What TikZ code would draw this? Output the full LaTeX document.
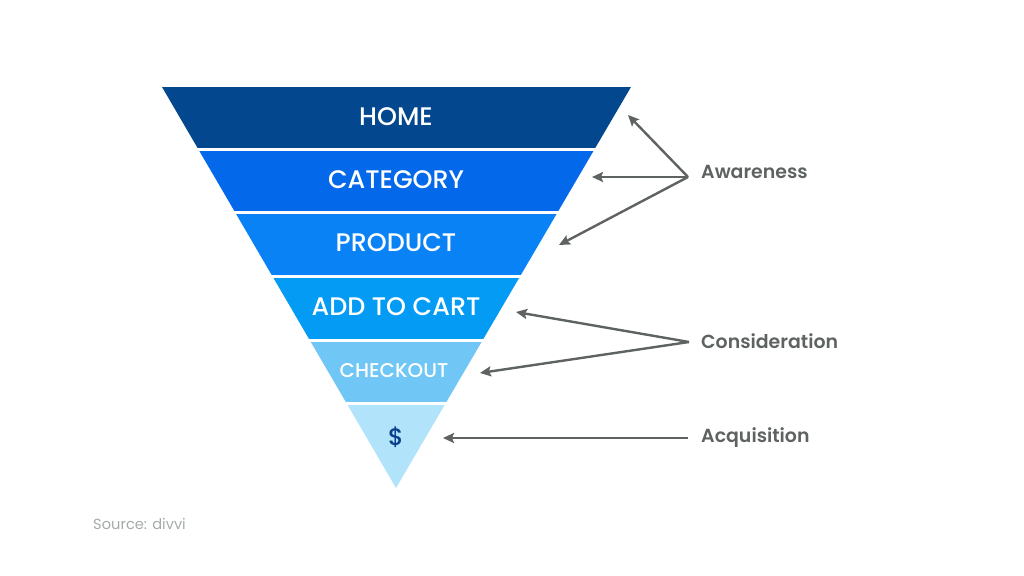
\documentclass[tikz,border=0pt]{standalone}
\usepackage{fontspec}
\setmainfont{Poppins}
\newfontfamily\popmed{Poppins Medium}
\newfontfamily\popsemi{Poppins SemiBold}
\usetikzlibrary{arrows.meta}
\definecolor{cHome}{HTML}{03488F}
\definecolor{cCat}{HTML}{0369EA}
\definecolor{cProd}{HTML}{0982F6}
\definecolor{cCart}{HTML}{049BF4}
\definecolor{cChk}{HTML}{70C7F5}
\definecolor{cBuy}{HTML}{B1E3FB}
\definecolor{cDollar}{HTML}{0B3F8C}
\definecolor{cArrow}{HTML}{5E6362}
\definecolor{cSrc}{HTML}{A3ABAA}
\tikzset{
  bandtext/.style={text=white, font=\popmed\fontsize{25.5}{28}\selectfont, inner sep=0pt},
  smalltext/.style={text=white, font=\popmed\fontsize{20}{24}\selectfont, inner sep=0pt},
  stagelabel/.style={text=cArrow, font=\popsemi\fontsize{19}{23}\selectfont, anchor=west, inner sep=0pt},
  pointer/.style={draw=cArrow, line width=2.4bp, -{Stealth[length=11bp,width=10bp,inset=2bp]}},
}
\begin{document}
\begin{tikzpicture}[x=1bp,y=-1bp]
\useasboundingbox (0,0) rectangle (1024,576);
% funnel bands
\begin{scope}
  \clip (162,87) -- (631,87) -- (396,488) -- cycle;
  \fill[cHome] (0,87) rectangle (1024,148.5);
  \fill[cCat]  (0,151.5) rectangle (1024,211.5);
  \fill[cProd] (0,214.5) rectangle (1024,275);
  \fill[cCart] (0,278) rectangle (1024,338.5);
  \fill[cChk]  (0,341.5) rectangle (1024,402);
  \fill[cBuy]  (0,405) rectangle (1024,490);
\end{scope}
% band texts
\node[bandtext] (home) at (396,117) {HOME};
\node[bandtext] (cat) at (396,180) {CATEGORY};
\node[bandtext] (prod) at (396,243) {PRODUCT};
\node[bandtext] (cart) at (396,307) {ADD TO CART};
\node[smalltext] (chk) at (394,371) {CHECKOUT};
\node[text=cDollar, font=\popmed\fontsize{24}{28}\selectfont, inner sep=0pt] (buy) at (396,437) {\$};
% stage labels
\node[stagelabel] (aw) at (701,172) {Awareness};
\node[stagelabel] (co) at (701,341) {Consideration};
\node[stagelabel] (ac) at (701,438) {Acquisition};
% arrow sources and tips
\coordinate (awS) at (688,177);
\coordinate (coS) at (689,342);
\coordinate (acS) at (688,438);
\coordinate (t1) at (628,115);
\coordinate (t2) at (592,177);
\coordinate (t3) at (559,245);
\coordinate (t4) at (516,312);
\coordinate (t5) at (480,373);
\coordinate (t6) at (443,438);
\draw[pointer] (awS) -- (t1);
\draw[pointer] (awS) -- (t2);
\draw[pointer] (awS) -- (t3);
\draw[pointer] (coS) -- (t4);
\draw[pointer] (coS) -- (t5);
\draw[pointer] (acS) -- (t6);
% source
\node[text=cSrc, font=\fontsize{14.7}{18}\selectfont, anchor=west, inner sep=0pt] (src) at (93,524) {Source: divvi};
\end{tikzpicture}
\end{document}
